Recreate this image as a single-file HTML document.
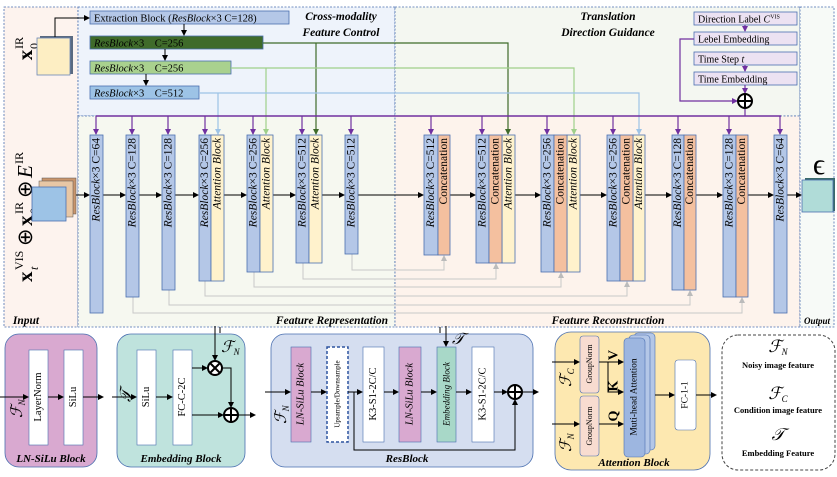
<!DOCTYPE html>
<html><head><meta charset="utf-8"><style>
html,body{margin:0;padding:0;background:#fff}
svg{display:block}
text{font-family:"Liberation Serif",serif}
</style></head><body>
<svg width="837" height="477" viewBox="0 0 837 477" xmlns="http://www.w3.org/2000/svg">
<defs>
<marker id="ab" markerWidth="6" markerHeight="6" refX="5" refY="3" orient="auto" markerUnits="userSpaceOnUse"><path d="M0,0 L6,3 L0,6z" fill="#000"/></marker>
<marker id="ap" markerWidth="6" markerHeight="6" refX="5" refY="3" orient="auto" markerUnits="userSpaceOnUse"><path d="M0,0 L6,3 L0,6z" fill="#7030a0"/></marker>
<marker id="ag" markerWidth="6" markerHeight="6" refX="5" refY="3" orient="auto" markerUnits="userSpaceOnUse"><path d="M0,0 L6,3 L0,6z" fill="#bbb"/></marker>
<marker id="adg" markerWidth="6" markerHeight="6" refX="5" refY="3" orient="auto" markerUnits="userSpaceOnUse"><path d="M0,0 L6,3 L0,6z" fill="#3f6b2a"/></marker>
<marker id="alg" markerWidth="6" markerHeight="6" refX="5" refY="3" orient="auto" markerUnits="userSpaceOnUse"><path d="M0,0 L6,3 L0,6z" fill="#9fd08a"/></marker>
<marker id="alb" markerWidth="6" markerHeight="6" refX="5" refY="3" orient="auto" markerUnits="userSpaceOnUse"><path d="M0,0 L6,3 L0,6z" fill="#9dc3e6"/></marker>
</defs>
<g stroke="#4a6fb0" stroke-width="0.8" stroke-dasharray="2,1.5">
<rect x="4" y="7" width="74" height="320" fill="#fdf3ee"/>
<rect x="78" y="7" width="317" height="109" fill="#eef3fb"/>
<rect x="395" y="7" width="405" height="109" fill="#f4f7f1"/>
<rect x="78" y="116" width="317" height="211" fill="#f6f8f0"/>
<rect x="395" y="116" width="405" height="211" fill="#fdf3ec"/>
<rect x="800" y="7" width="34" height="320" fill="#f7faf7"/>
</g>
<g font-style="italic" font-weight="bold" font-size="11.5" text-anchor="middle">
<text x="341" y="20">Cross-modality</text><text x="341" y="36">Feature Control</text>
<text x="608" y="20">Translation</text><text x="608" y="36">Direction Guidance</text>
<text x="26" y="324">Input</text>
<text x="332" y="324">Feature Representation</text>
<text x="608" y="324">Feature Reconstruction</text>
<text x="817" y="324" font-size="9">Output</text>
</g>
<!-- input labels -->
<g transform="translate(32,55) rotate(-90)"><text font-size="21" font-weight="bold" text-anchor="middle">x</text><text x="6" y="-9" font-size="12">IR</text><text x="6" y="6" font-size="12">0</text></g>
<g transform="translate(32,282) rotate(-90)" font-size="21">
<text x="0" y="0" font-weight="bold">x</text><text x="12" y="-9" font-size="12">VIS</text><text x="12" y="6" font-size="12" font-style="italic">t</text>
<text x="36" y="0">⊕</text>
<text x="56" y="0" font-weight="bold">x</text><text x="68" y="-9" font-size="12">IR</text><text x="68" y="6" font-size="12">0</text>
<text x="84" y="0">⊕</text>
<text x="104" y="0" font-style="italic">E</text><text x="118" y="-9" font-size="12">IR</text>
</g>
<rect x="40" y="36" width="33" height="38" fill="#5a6a80"/>
<rect x="37" y="38" width="33" height="37" fill="#fdeec3" stroke="#6b86b8" stroke-width="0.8"/>
<path d="M55,37 V18 H89" fill="none" stroke="#000" stroke-width="1" marker-end="url(#ab)"/>
<rect x="42" y="178" width="34" height="36" fill="#c9956b" stroke="#555" stroke-width="0.5"/>
<rect x="39" y="181" width="34" height="36" fill="#e8c7a5" stroke="#555" stroke-width="0.5"/>
<rect x="32" y="187" width="34" height="34" fill="#9dc3e6" stroke="#4a6fb0" stroke-width="0.8"/>
<line x1="76" y1="195" x2="89" y2="195" stroke="#000" marker-end="url(#ab)"/>
<g stroke="#4a6fb0" stroke-width="0.8">
<rect x="90" y="11" width="199" height="13" fill="#b4c7e7"/>
<rect x="90" y="36" width="173" height="13" fill="#3f6b2a"/>
<rect x="90" y="61" width="141" height="13" fill="#a9d18e"/>
<rect x="90" y="86" width="109" height="13" fill="#9dc3e6"/>
</g>
<g font-size="10.5">
<text x="94" y="21.5">Extraction Block (<tspan font-style="italic">ResBlock</tspan>×3   C=128)</text>
<text x="94" y="46.5" xml:space="preserve"><tspan font-style="italic">ResBlock</tspan>×3    C=256</text>
<text x="94" y="71.5" xml:space="preserve"><tspan font-style="italic">ResBlock</tspan>×3    C=256</text>
<text x="94" y="96.5" xml:space="preserve"><tspan font-style="italic">ResBlock</tspan>×3    C=512</text>
</g>
<g stroke="#000" fill="none"><line x1="184" y1="24" x2="184" y2="35" marker-end="url(#ab)"/><line x1="165" y1="49" x2="165" y2="60" marker-end="url(#ab)"/><line x1="146" y1="74" x2="146" y2="85" marker-end="url(#ab)"/></g>
<g fill="none" stroke-width="1.2">
<path d="M263,43 H508 V134" stroke="#3f6b2a" marker-end="url(#adg)"/>
<path d="M316,43 V134" stroke="#3f6b2a" marker-end="url(#adg)"/>
<path d="M231,68 H574 V134" stroke="#9fd08a" marker-end="url(#alg)"/>
<path d="M266,68 V134" stroke="#9fd08a" marker-end="url(#alg)"/>
<path d="M199,93 H639 V134" stroke="#9dc3e6" marker-end="url(#alb)"/>
<path d="M218,93 V134" stroke="#9dc3e6" marker-end="url(#alb)"/>
</g>
<g stroke="#4a6fb0" stroke-width="0.8" fill="#ece2f2">
<rect x="694" y="12" width="103" height="13"/><rect x="694" y="32" width="103" height="13"/>
<rect x="694" y="52" width="103" height="13"/><rect x="694" y="72" width="103" height="13"/>
</g>
<g font-size="10"><text x="698" y="22.5">Direction Label  <tspan font-style="italic">C</tspan><tspan font-size="6" dy="-4">VIS</tspan></text>
<text x="698" y="42.5">Lebel Embedding</text><text x="698" y="62.5">Time Step  <tspan font-style="italic">t</tspan></text><text x="698" y="82.5">Time Embedding</text></g>
<g stroke="#7030a0" stroke-width="1.2" fill="none">
<line x1="745" y1="25" x2="745" y2="31" marker-end="url(#ap)"/>
<line x1="745" y1="65" x2="745" y2="71" marker-end="url(#ap)"/>
<line x1="745" y1="85" x2="745" y2="93" marker-end="url(#ap)"/>
<path d="M694,39 H680 V101 H737" marker-end="url(#ap)"/>
<line x1="745" y1="108" x2="745" y2="116"/>
<line x1="96" y1="116" x2="781" y2="116" stroke-width="1.6"/>
</g>
<circle cx="745" cy="101" r="7" fill="#fff" stroke="#000" stroke-width="2"/>
<path d="M738,101 H752 M745,94 V108" stroke="#000" stroke-width="2"/>
<g stroke="#7030a0" stroke-width="1.2">
<line x1="96" y1="116" x2="96" y2="134" marker-end="url(#ap)"/><line x1="132" y1="116" x2="132" y2="134" marker-end="url(#ap)"/>
<line x1="168" y1="116" x2="168" y2="134" marker-end="url(#ap)"/><line x1="205" y1="116" x2="205" y2="134" marker-end="url(#ap)"/>
<line x1="253" y1="116" x2="253" y2="134" marker-end="url(#ap)"/><line x1="302" y1="116" x2="302" y2="134" marker-end="url(#ap)"/>
<line x1="351" y1="116" x2="351" y2="134" marker-end="url(#ap)"/><line x1="431" y1="116" x2="431" y2="134" marker-end="url(#ap)"/>
<line x1="482" y1="116" x2="482" y2="134" marker-end="url(#ap)"/><line x1="547" y1="116" x2="547" y2="134" marker-end="url(#ap)"/>
<line x1="613" y1="116" x2="613" y2="134" marker-end="url(#ap)"/><line x1="678" y1="116" x2="678" y2="134" marker-end="url(#ap)"/>
<line x1="729" y1="116" x2="729" y2="134" marker-end="url(#ap)"/><line x1="780" y1="116" x2="780" y2="134" marker-end="url(#ap)"/>
</g>
<g stroke="#c8c8c8" stroke-width="1" fill="none">
<path d="M352,254 V270 H444 V256" marker-end="url(#ag)"/>
<path d="M303,263 V279 H496 V264" marker-end="url(#ag)"/>
<path d="M254,272 V287 H561 V273" marker-end="url(#ag)"/>
<path d="M205,281 V296 H627 V282" marker-end="url(#ag)"/>
<path d="M169,290 V305 H690 V291" marker-end="url(#ag)"/>
<path d="M133,297 V313 H742 V298" marker-end="url(#ag)"/>
</g>
<g stroke="#000" stroke-width="1">
<line x1="103" y1="195" x2="125" y2="195" marker-end="url(#ab)"/><line x1="139" y1="195" x2="161" y2="195" marker-end="url(#ab)"/>
<line x1="175" y1="195" x2="198" y2="195" marker-end="url(#ab)"/><line x1="224" y1="195" x2="246" y2="195" marker-end="url(#ab)"/>
<line x1="273" y1="195" x2="295" y2="195" marker-end="url(#ab)"/><line x1="322" y1="195" x2="344" y2="195" marker-end="url(#ab)"/>
<line x1="358" y1="195" x2="423" y2="195" marker-end="url(#ab)"/><line x1="450" y1="195" x2="475" y2="195" marker-end="url(#ab)"/>
<line x1="515" y1="195" x2="540" y2="195" marker-end="url(#ab)"/><line x1="580" y1="195" x2="606" y2="195" marker-end="url(#ab)"/>
<line x1="645" y1="195" x2="671" y2="195" marker-end="url(#ab)"/><line x1="696" y1="195" x2="722" y2="195" marker-end="url(#ab)"/>
<line x1="748" y1="195" x2="773" y2="195" marker-end="url(#ab)"/><line x1="787" y1="195" x2="801" y2="195" marker-end="url(#ab)"/>
</g>
<g stroke="#4a6fb0" stroke-width="0.8">
<g fill="#b4c7e7">
<rect x="90" y="135" width="13" height="178"/><rect x="126" y="135" width="13" height="162"/><rect x="162" y="135" width="13" height="155"/>
<rect x="199" y="135" width="12" height="146"/><rect x="247" y="135" width="13" height="137"/><rect x="296" y="135" width="13" height="128"/>
<rect x="345" y="135" width="13" height="119"/>
<rect x="424" y="135" width="14" height="120"/><rect x="476" y="135" width="13" height="128"/><rect x="541" y="135" width="13" height="137"/>
<rect x="607" y="135" width="13" height="146"/><rect x="672" y="135" width="12" height="155"/><rect x="723" y="135" width="13" height="162"/>
<rect x="774" y="135" width="13" height="178"/>
</g>
<g fill="#fff2cc">
<rect x="211" y="135" width="13" height="146"/><rect x="260" y="135" width="13" height="137"/><rect x="309" y="135" width="13" height="128"/>
<rect x="502" y="135" width="13" height="128"/><rect x="567" y="135" width="13" height="137"/><rect x="633" y="135" width="12" height="146"/>
</g>
<g fill="#f4c09f">
<rect x="438" y="135" width="12" height="120"/><rect x="489" y="135" width="13" height="128"/><rect x="554" y="135" width="13" height="137"/>
<rect x="620" y="135" width="13" height="146"/><rect x="684" y="135" width="12" height="155"/><rect x="736" y="135" width="12" height="162"/>
</g>
</g>
<g font-size="11.5" text-anchor="end" dominant-baseline="central" xml:space="preserve">
<text transform="translate(96.5,138) rotate(-90)"><tspan font-style="italic">ResBlock</tspan>×3   C=64</text>
<text transform="translate(132.5,138) rotate(-90)"><tspan font-style="italic">ResBlock</tspan>×3   C=128</text>
<text transform="translate(168.5,138) rotate(-90)"><tspan font-style="italic">ResBlock</tspan>×3   C=128</text>
<text transform="translate(205,138) rotate(-90)"><tspan font-style="italic">ResBlock</tspan>×3   C=256</text>
<text transform="translate(253.5,138) rotate(-90)"><tspan font-style="italic">ResBlock</tspan>×3   C=256</text>
<text transform="translate(302.5,138) rotate(-90)"><tspan font-style="italic">ResBlock</tspan>×3   C=512</text>
<text transform="translate(351.5,138) rotate(-90)"><tspan font-style="italic">ResBlock</tspan>×3   C=512</text>
<text transform="translate(431,138) rotate(-90)"><tspan font-style="italic">ResBlock</tspan>×3   C=512</text>
<text transform="translate(482.5,138) rotate(-90)"><tspan font-style="italic">ResBlock</tspan>×3   C=512</text>
<text transform="translate(547.5,138) rotate(-90)"><tspan font-style="italic">ResBlock</tspan>×3   C=256</text>
<text transform="translate(613.5,138) rotate(-90)"><tspan font-style="italic">ResBlock</tspan>×3   C=256</text>
<text transform="translate(678,138) rotate(-90)"><tspan font-style="italic">ResBlock</tspan>×3   C=128</text>
<text transform="translate(729.5,138) rotate(-90)"><tspan font-style="italic">ResBlock</tspan>×3   C=128</text>
<text transform="translate(780.5,138) rotate(-90)"><tspan font-style="italic">ResBlock</tspan>×3   C=64</text>
<g font-style="italic">
<text transform="translate(217.5,138) rotate(-90)">Attention Block</text><text transform="translate(266.5,138) rotate(-90)">Attention Block</text>
<text transform="translate(315.5,138) rotate(-90)">Attention Block</text><text transform="translate(508.5,138) rotate(-90)">Attention Block</text>
<text transform="translate(573.5,138) rotate(-90)">Attention Block</text><text transform="translate(639,138) rotate(-90)">Attention Block</text>
</g>
<text transform="translate(444,138) rotate(-90)">Concatenation</text><text transform="translate(495.5,138) rotate(-90)">Concatenation</text>
<text transform="translate(560.5,138) rotate(-90)">Concatenation</text><text transform="translate(626.5,138) rotate(-90)">Concatenation</text>
<text transform="translate(690,138) rotate(-90)">Concatenation</text><text transform="translate(742,138) rotate(-90)">Concatenation</text>
</g>
<rect x="805" y="178" width="30" height="33" fill="#3a6a6a"/>
<rect x="802" y="180" width="31" height="32" fill="#b0dcd8" stroke="#4a6fb0" stroke-width="0.8"/>
<text x="819" y="174" font-size="30" text-anchor="middle">ϵ</text>
<line x1="220" y1="327" x2="220" y2="333" stroke="#000"/>
<line x1="440" y1="327" x2="440" y2="333" stroke="#000"/>

<!-- LN-SiLu -->
<rect x="5" y="334" width="92" height="133" rx="14" fill="#d9a9d0" stroke="#4a6fb0" stroke-width="0.8"/>
<rect x="29" y="350" width="19" height="95" fill="#fff" stroke="#4a6fb0" stroke-width="0.6"/>
<rect x="64" y="350" width="19" height="95" fill="#fff" stroke="#4a6fb0" stroke-width="0.6"/>
<g font-size="10.5" text-anchor="middle" dominant-baseline="central">
<text transform="translate(38.5,397) rotate(-90)">LayerNorm</text><text transform="translate(73.5,397) rotate(-90)">SiLu</text>
</g>
<g stroke="#000"><line x1="0" y1="397" x2="28" y2="397" marker-end="url(#ab)"/><line x1="48" y1="397" x2="63" y2="397" marker-end="url(#ab)"/><line x1="83" y1="397" x2="103" y2="397" marker-end="url(#ab)"/></g>
<text transform="translate(22,418) rotate(-90)" font-size="16" font-style="italic">ℱ<tspan font-size="9" dy="3">N</tspan></text>
<text x="51" y="462" font-size="11" font-weight="bold" font-style="italic" text-anchor="middle">LN-SiLu Block</text>

<!-- Embedding -->
<rect x="117" y="334" width="128" height="133" rx="14" fill="#bfe3dd" stroke="#4a6fb0" stroke-width="0.8"/>
<rect x="137" y="350" width="19" height="95" fill="#fff" stroke="#4a6fb0" stroke-width="0.6"/>
<rect x="173" y="350" width="19" height="95" fill="#fff" stroke="#4a6fb0" stroke-width="0.6"/>
<g font-size="10.5" text-anchor="middle" dominant-baseline="central">
<text transform="translate(146.5,397) rotate(-90)">SiLu</text><text transform="translate(182.5,397) rotate(-90)">FC-C-2C</text>
</g>
<g stroke="#000" fill="none">
<line x1="112" y1="397" x2="136" y2="397" marker-end="url(#ab)"/><line x1="156" y1="397" x2="172" y2="397" marker-end="url(#ab)"/>
<line x1="192" y1="368" x2="207" y2="368" marker-end="url(#ab)"/><line x1="192" y1="415" x2="223" y2="415" marker-end="url(#ab)"/>
<line x1="215" y1="326" x2="215" y2="360" marker-end="url(#ab)"/>
<path d="M222,368 H231 V407" marker-end="url(#ab)"/><line x1="238" y1="415" x2="255" y2="415" marker-end="url(#ab)"/>
</g>
<circle cx="215" cy="368" r="7" fill="#fff" stroke="#000" stroke-width="2"/><path d="M210,363 L220,373 M220,363 L210,373" stroke="#000" stroke-width="2"/>
<circle cx="231" cy="415" r="7" fill="#fff" stroke="#000" stroke-width="2"/><path d="M224,415 H238 M231,408 V422" stroke="#000" stroke-width="2"/>
<text transform="translate(131,402) rotate(-90)" font-size="16" font-style="italic">𝒯</text>
<text x="221" y="352" font-size="16" font-style="italic">ℱ<tspan font-size="9" dy="3">N</tspan></text>
<text x="181" y="462" font-size="11" font-weight="bold" font-style="italic" text-anchor="middle">Embedding Block</text>

<!-- ResBlock -->
<rect x="271" y="334" width="262" height="133" rx="14" fill="#d5def0" stroke="#4a6fb0" stroke-width="0.8"/>
<rect x="291" y="347" width="20" height="95" fill="#d9a9d0" stroke="#4a6fb0" stroke-width="0.6"/>
<rect x="327" y="347" width="21" height="95" fill="#fff" stroke="#2f55a0" stroke-width="1.5" stroke-dasharray="3,2"/>
<rect x="363" y="347" width="21" height="95" fill="#fff" stroke="#4a6fb0" stroke-width="0.6"/>
<rect x="399" y="347" width="22" height="95" fill="#d9a9d0" stroke="#4a6fb0" stroke-width="0.6"/>
<rect x="437" y="347" width="19" height="95" fill="#a8d8c8" stroke="#4a6fb0" stroke-width="0.6"/>
<rect x="472" y="347" width="22" height="95" fill="#fff" stroke="#4a6fb0" stroke-width="0.6"/>
<g text-anchor="middle" dominant-baseline="central" font-size="10.5">
<text transform="translate(301,394) rotate(-90)" font-style="italic">LN-SiLu Block</text>
<text transform="translate(337.5,394) rotate(-90)" font-size="7">Upsample/Downsample</text>
<text transform="translate(373.5,394) rotate(-90)">K3-S1-2C/C</text>
<text transform="translate(410,394) rotate(-90)" font-style="italic">LN-SiLu Block</text>
<text transform="translate(446.5,394) rotate(-90)" font-style="italic" font-size="9">Embedding Block</text>
<text transform="translate(483,394) rotate(-90)">K3-S1-2C/C</text>
</g>
<g stroke="#000" fill="none">
<line x1="265" y1="392" x2="290" y2="392" marker-end="url(#ab)"/><line x1="311" y1="392" x2="326" y2="392" marker-end="url(#ab)"/>
<line x1="348" y1="392" x2="362" y2="392" marker-end="url(#ab)"/><line x1="384" y1="392" x2="398" y2="392" marker-end="url(#ab)"/>
<line x1="421" y1="392" x2="436" y2="392" marker-end="url(#ab)"/><line x1="456" y1="392" x2="471" y2="392" marker-end="url(#ab)"/>
<line x1="494" y1="392" x2="507" y2="392" marker-end="url(#ab)"/><line x1="522" y1="392" x2="538" y2="392" marker-end="url(#ab)"/>
<path d="M354,392 V450 H515 V400" marker-end="url(#ab)"/>
<line x1="446" y1="326" x2="446" y2="346" marker-end="url(#ab)"/>
</g>
<circle cx="515" cy="392" r="7" fill="#fff" stroke="#000" stroke-width="2"/><path d="M508,392 H522 M515,385 V399" stroke="#000" stroke-width="2"/>
<text x="452" y="344" font-size="16" font-style="italic">𝒯</text>
<text transform="translate(286,424) rotate(-90)" font-size="16" font-style="italic">ℱ<tspan font-size="9" dy="3">N</tspan></text>
<text x="407" y="462" font-size="11" font-weight="bold" font-style="italic" text-anchor="middle">ResBlock</text>

<!-- Attention -->
<rect x="555" y="332" width="155" height="138" rx="16" fill="#fde8b0" stroke="#4a6fb0" stroke-width="0.8"/>
<rect x="580" y="336" width="19" height="57" rx="3" fill="#f8dcd0" stroke="#4a6fb0" stroke-width="0.6"/>
<rect x="580" y="396" width="19" height="60" rx="3" fill="#f8dcd0" stroke="#4a6fb0" stroke-width="0.6"/>
<rect x="634" y="333" width="21" height="117" rx="4" fill="#b4c7e7" stroke="#4a6fb0" stroke-width="0.6"/>
<rect x="629" y="335" width="21" height="119" rx="4" fill="#b4c7e7" stroke="#4a6fb0" stroke-width="0.6"/>
<rect x="624" y="338" width="21" height="119" rx="4" fill="#9db6e0" stroke="#4a6fb0" stroke-width="0.6"/>
<rect x="675" y="360" width="21" height="70" rx="3" fill="#fff" stroke="#4a6fb0" stroke-width="0.6"/>
<g text-anchor="middle" dominant-baseline="central">
<text transform="translate(589.5,364) rotate(-90)" font-size="8">GroupNorm</text>
<text transform="translate(589.5,426) rotate(-90)" font-size="8">GroupNorm</text>
<text transform="translate(634.5,397) rotate(-90)" font-size="9.5">Muti-head Attention</text>
<text transform="translate(685.5,395) rotate(-90)" font-size="9.5">FC-1-1</text>
<text transform="translate(614,355) rotate(-90)" font-size="14" font-weight="bold">V</text>
<text transform="translate(614,386) rotate(-90)" font-size="14" font-weight="bold">K</text>
<text transform="translate(614,416) rotate(-90)" font-size="14" font-weight="bold">Q</text>
</g>
<g stroke="#000" fill="none">
<line x1="552" y1="362" x2="579" y2="362" marker-end="url(#ab)"/><line x1="552" y1="424" x2="579" y2="424" marker-end="url(#ab)"/>
<line x1="599" y1="362" x2="623" y2="362" marker-end="url(#ab)"/>
<path d="M608,362 V392 H623" marker-end="url(#ab)"/>
<line x1="599" y1="424" x2="623" y2="424" marker-end="url(#ab)"/>
<line x1="655" y1="395" x2="674" y2="395" marker-end="url(#ab)"/><line x1="696" y1="395" x2="716" y2="395" marker-end="url(#ab)"/>
</g>
<text transform="translate(571,387) rotate(-90)" font-size="16" font-style="italic">ℱ<tspan font-size="9" dy="3">C</tspan></text>
<text transform="translate(571,452) rotate(-90)" font-size="16" font-style="italic">ℱ<tspan font-size="9" dy="3">N</tspan></text>
<text x="634" y="466" font-size="11" font-weight="bold" font-style="italic" text-anchor="middle">Attention Block</text>

<!-- legend -->
<rect x="722" y="335" width="113" height="135" rx="16" fill="#fff" stroke="#444" stroke-width="1" stroke-dasharray="3,2"/>
<g text-anchor="middle">
<text x="778" y="352" font-size="17" font-style="italic">ℱ<tspan font-size="9" dy="3">N</tspan></text>
<text x="778" y="368" font-size="8.5" font-weight="bold">Noisy image feature</text>
<text x="778" y="399" font-size="17" font-style="italic">ℱ<tspan font-size="9" dy="3">C</tspan></text>
<text x="778" y="413" font-size="8.5" font-weight="bold">Condition image feature</text>
<text x="778" y="440" font-size="17" font-style="italic">𝒯</text>
<text x="778" y="456" font-size="8.5" font-weight="bold">Embedding Feature</text>
</g>
</svg>
</body></html>
